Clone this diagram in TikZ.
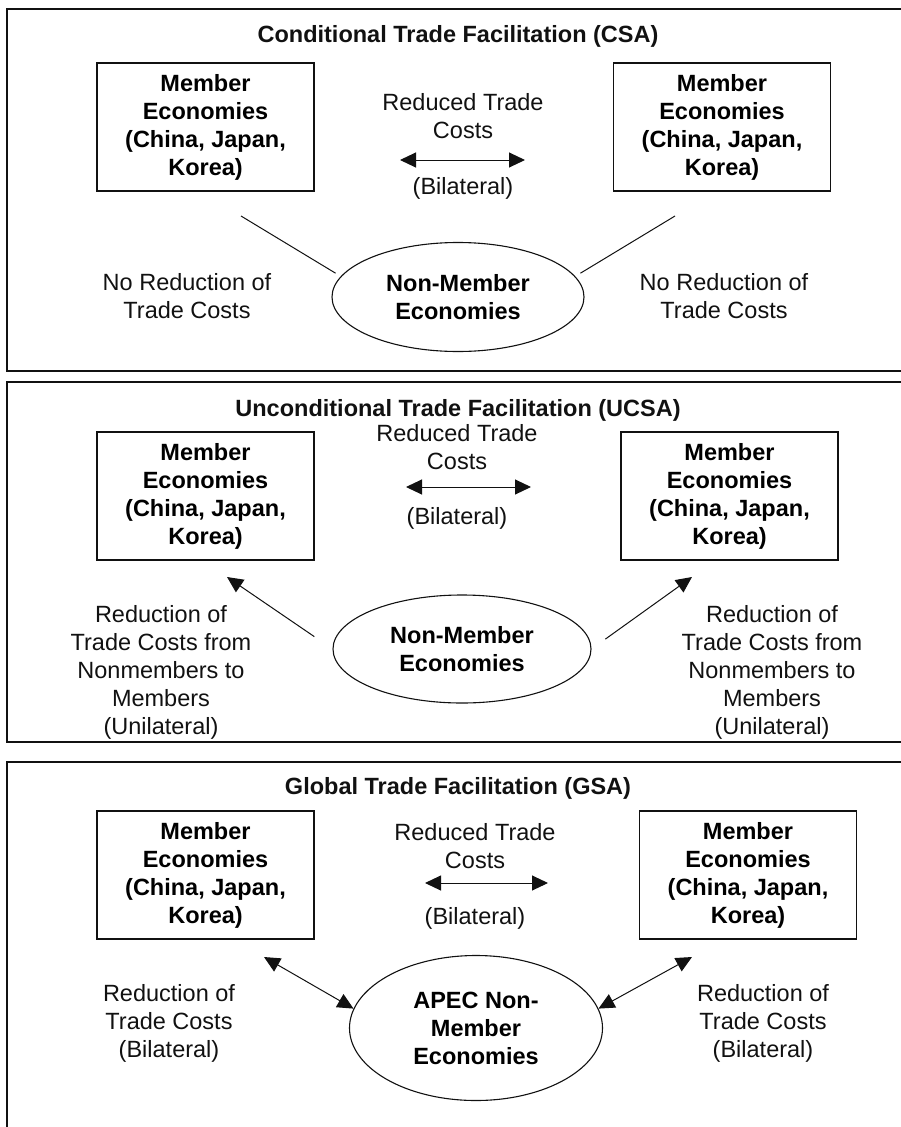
\documentclass[tikz,border=0pt]{standalone}
\usepackage{fontspec}
\setmainfont{Liberation Sans}
\usepackage{xcolor}
\usetikzlibrary{positioning, arrows.meta, shapes.geometric}
\definecolor{inkblack}{HTML}{111111}

\tikzset{
  bigfont/.style={font=\fontsize{23.5}{28}\selectfont},
  boldfont/.style={font=\bfseries\fontsize{23.5}{28}\selectfont},
  memberbox/.style={draw=inkblack, boldfont, line width=1.1pt, minimum width=217pt,
                    minimum height=128pt, align=center, inner sep=0pt},
  nonmember/.style={draw=inkblack, ellipse, boldfont, line width=1.1pt, align=center, inner sep=0pt},
  plaintext/.style={bigfont, align=center, inner sep=0pt, text=inkblack},
  paneltitle/.style={boldfont, inner sep=0pt, text=inkblack},
  frameline/.style={draw=inkblack, line width=1.4pt},
  link/.style={draw=inkblack, line width=1pt},
  oneway/.style={link, -{Triangle[length=16pt,width=15pt]}},
  twoway/.style={link, {Triangle[length=16pt,width=15pt]}-{Triangle[length=16pt,width=15pt]}},
}

\begin{document}
\begin{tikzpicture}[x=1pt, y=-1pt]
  \useasboundingbox (0,0) rectangle (900,1127);

  % conditional
  \draw[frameline] (905,9) -- (7,9) -- (7,371) -- (905,371);
  \node[paneltitle] (title1) at (458,36) {Conditional Trade Facilitation (CSA)};
  \node[memberbox] (mem1l) at (205.5,127) {Member\\Economies\\(China, Japan,\\Korea)};
  \node[memberbox] (mem1r) at (722,127) {Member\\Economies\\(China, Japan,\\Korea)};
  \node[plaintext] (red1) at (463,116) {Reduced Trade\\Costs};
  \coordinate (a1l) at (400,160);
  \coordinate (a1r) at (525,160);
  \draw[twoway] (a1l) -- (a1r);
  \node[plaintext] (bil1) at (463,188) {(Bilateral)};
  \node[nonmember, minimum width=252pt, minimum height=109pt] (non1) at (458,297) {Non-Member\\Economies};
  \coordinate (c1l) at (241,216);
  \coordinate (c1r) at (675,216);
  \draw[link, shorten >=6pt] (c1l) -- (non1.170);
  \draw[link, shorten >=6pt] (c1r) -- (non1.10);
  \node[plaintext] (nored1l) at (187,296.5) {No Reduction of\\Trade Costs};
  \node[plaintext] (nored1r) at (724,296.5) {No Reduction of\\Trade Costs};

  % unconditional
  \draw[frameline] (905,382) -- (7,382) -- (7,742) -- (905,742);
  \node[paneltitle] (title2) at (458,410) {Unconditional Trade Facilitation (UCSA)};
  \node[memberbox] (mem2l) at (205.5,496) {Member\\Economies\\(China, Japan,\\Korea)};
  \node[memberbox] (mem2r) at (729.5,496) {Member\\Economies\\(China, Japan,\\Korea)};
  \node[plaintext] (red2) at (457,447.5) {Reduced Trade\\Costs};
  \coordinate (a2l) at (406,487);
  \coordinate (a2r) at (531,487);
  \draw[twoway] (a2l) -- (a2r);
  \node[plaintext] (bil2) at (457,518) {(Bilateral)};
  \node[nonmember, minimum width=258pt, minimum height=108pt] (non2) at (462,649) {Non-Member\\Economies};
  \coordinate (h2l) at (227,577);
  \coordinate (h2r) at (692,577);
  \draw[oneway, shorten <=22pt] (non2.west) -- (h2l);
  \draw[oneway, shorten <=17pt] (non2.east) -- (h2r);
  \node[plaintext] (uni2l) at (161,672) {Reduction of\\Trade Costs from\\Nonmembers to\\Members\\(Unilateral)};
  \node[plaintext] (uni2r) at (772,672) {Reduction of\\Trade Costs from\\Nonmembers to\\Members\\(Unilateral)};

  % global
  \draw[frameline] (905,762) -- (7,762) -- (7,1135);
  \node[paneltitle] (title3) at (458,788) {Global Trade Facilitation (GSA)};
  \node[memberbox] (mem3l) at (205.5,875) {Member\\Economies\\(China, Japan,\\Korea)};
  \node[memberbox] (mem3r) at (748,875) {Member\\Economies\\(China, Japan,\\Korea)};
  \node[plaintext] (red3) at (475,846) {Reduced Trade\\Costs};
  \coordinate (a3l) at (425,883);
  \coordinate (a3r) at (548,883);
  \draw[twoway] (a3l) -- (a3r);
  \node[plaintext] (bil3) at (475,918) {(Bilateral)};
  \node[nonmember, minimum width=253pt, minimum height=145pt] (non3) at (476,1028) {APEC Non-\\Member\\Economies};
  \coordinate (h3l) at (264,957);
  \coordinate (h3r) at (692,957);
  \draw[twoway] (h3l) -- (non3.171);
  \draw[twoway] (h3r) -- (non3.9);
  \node[plaintext] (bil3l) at (169,1023) {Reduction of\\Trade Costs\\(Bilateral)};
  \node[plaintext] (bil3r) at (763,1023) {Reduction of\\Trade Costs\\(Bilateral)};
\end{tikzpicture}
\end{document}
